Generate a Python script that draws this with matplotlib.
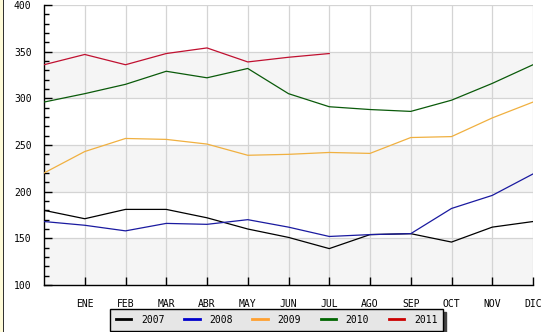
import numpy as np
import matplotlib.pyplot as plt
from matplotlib.patches import Rectangle

# categories (first point is unlabeled)
months = ['ENE', 'FEB', 'MAR', 'ABR', 'MAY', 'JUN', 'JUL', 'AGO', 'SEP', 'OCT', 'NOV', 'DIC']

v2007 = [180, 171, 181, 181, 172, 160, 151, 139, 154, 155, 146, 162, 168]
v2008 = [168, 164, 158, 166, 165, 170, 162, 152, 154, 155, 182, 196, 219]
v2009 = [220, 243, 257, 256, 251, 239, 240, 242, 241, 258, 259, 279, 296]
v2010 = [296, 305, 315, 329, 322, 332, 305, 291, 288, 286, 298, 316, 336]
v2011 = [336, 347, 336, 348, 354, 339, 344, 348]

series = [('2007', v2007, '#000000', '#000000'),
          ('2008', v2008, '#1a1aa0', '#0000cc'),
          ('2009', v2009, '#f0b040', '#ffa030'),
          ('2010', v2010, '#0a5a0a', '#006600'),
          ('2011', v2011, '#c01030', '#cc0000')]

plt.rcParams['font.family'] = 'DejaVu Sans Mono'
plt.rcParams['font.size'] = 7

fig = plt.figure(figsize=(5.52, 3.32), dpi=100)
fig.patches.append(Rectangle((0, 0), 2.5 / 552, 1, transform=fig.transFigure,
                             facecolor='#fffbd8', edgecolor='none'))
fig.patches.append(Rectangle((2.5 / 552, 0), 1 / 552, 1, transform=fig.transFigure,
                             facecolor='#333333', edgecolor='none'))

ax = fig.add_axes([44 / 552, 47 / 332, 489 / 552, 280 / 332])

for lo in (100, 200, 300):
    ax.axhspan(lo, lo + 50, facecolor='#f5f5f5', edgecolor='none', zorder=0)

for x in range(1, 13):
    ax.axvline(x, color='#d4d4d4', lw=0.9, zorder=1)
for y in range(150, 401, 50):
    ax.axhline(y, color='#d4d4d4', lw=0.9, zorder=1)

handles = []
for name, vals, col, lcol in series:
    ax.plot(range(len(vals)), vals, color=col, lw=0.9, zorder=3)
    h, = ax.plot([], [], color=lcol, lw=2, label=name)
    handles.append(h)

ax.set_xlim(0, 12)
ax.set_ylim(100, 400)
ax.set_xticks(range(1, 13))
ax.set_xticklabels(months)
ax.set_yticks(range(100, 401, 50))
ax.set_yticks(range(100, 401, 10), minor=True)
ax.tick_params(axis='both', which='major', direction='in', length=6, width=1, color='black')
ax.tick_params(axis='y', which='minor', direction='in', length=3.5, width=1)
ax.tick_params(axis='x', pad=10)
ax.tick_params(axis='y', pad=9)

for s in ('top', 'right'):
    ax.spines[s].set_visible(False)
for s in ('left', 'bottom'):
    ax.spines[s].set_linewidth(1)

leg = fig.legend(handles=handles, loc='upper left', ncol=5,
                 bbox_to_anchor=(110 / 552, 1 - 309 / 332),
                 frameon=True, fancybox=False, shadow={'color': '#444444', 'alpha': 1},
                 facecolor='#e6e6e6', edgecolor='black', framealpha=1,
                 handlelength=1.6, handletextpad=1.0, columnspacing=2.0,
                 borderpad=0.6, borderaxespad=0)
leg.get_frame().set_linewidth(1)

fig.savefig('out.png', dpi=100, facecolor='white')
